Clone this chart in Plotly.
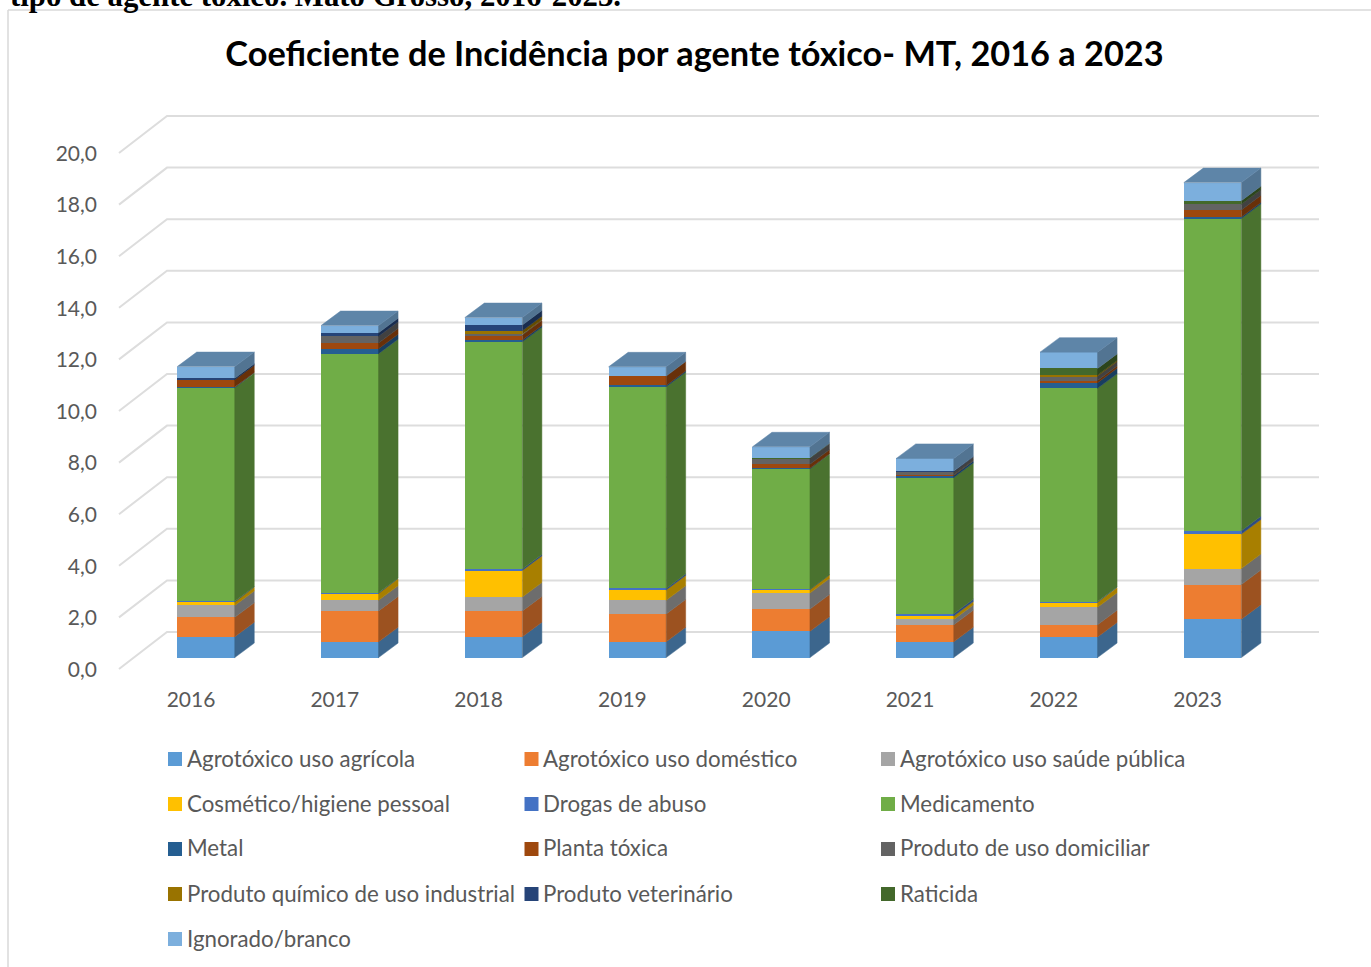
import plotly.graph_objects as go

# ---------- data ----------
years = ["2016", "2017", "2018", "2019", "2020", "2021", "2022", "2023"]
agrotoxico_agricola = [0.81, 0.61, 0.81, 0.61, 1.02, 0.61, 0.80, 1.49]
agrotoxico_domestico = [0.75, 1.20, 1.00, 1.08, 0.86, 0.66, 0.47, 1.34]
agrotoxico_saude = [0.46, 0.41, 0.54, 0.53, 0.62, 0.21, 0.68, 0.62]
cosmetico = [0.14, 0.27, 1.03, 0.40, 0.14, 0.13, 0.20, 1.34]
drogas = [0.02, 0.02, 0.05, 0.06, 0.01, 0.09, 0.02, 0.13]
medicamento = [8.28, 9.27, 8.81, 7.82, 4.67, 5.28, 8.27, 12.10]
metal = [0.03, 0.19, 0.07, 0.05, 0.02, 0.08, 0.21, 0.06]
planta = [0.28, 0.22, 0.19, 0.36, 0.15, 0.02, 0.09, 0.27]
domiciliar = [0.0, 0.27, 0.03, 0.0, 0.24, 0.13, 0.17, 0.22]
industrial = [0.0, 0.0, 0.14, 0.0, 0.0, 0.0, 0.04, 0.0]
veterinario = [0.06, 0.13, 0.22, 0.0, 0.0, 0.02, 0.0, 0.0]
raticida = [0.0, 0.0, 0.0, 0.0, 0.02, 0.0, 0.26, 0.14]
ignorado = [0.45, 0.28, 0.29, 0.36, 0.42, 0.49, 0.63, 0.70]

series_names = ["Agrotóxico uso agrícola", "Agrotóxico uso doméstico", "Agrotóxico uso saúde pública",
                "Cosmético/higiene pessoal", "Drogas de abuso", "Medicamento", "Metal", "Planta tóxica",
                "Produto de uso domiciliar", "Produto químico de uso industrial", "Produto veterinário",
                "Raticida", "Ignorado/branco"]
series_values = [agrotoxico_agricola, agrotoxico_domestico, agrotoxico_saude, cosmetico, drogas, medicamento,
                 metal, planta, domiciliar, industrial, veterinario, raticida, ignorado]
series_colors = ["#5B9BD5", "#ED7D31", "#A5A5A5", "#FFC000", "#4472C4", "#70AD47", "#255E91", "#9E480E",
                 "#636363", "#997300", "#264478", "#43682B", "#7CAFDD"]
axis_ticks = [0, 2, 4, 6, 8, 10, 12, 14, 16, 18, 20]

# ---------- layout constants (pixels) ----------
W, H = 1371, 967
L, R, T, B = 98, 41, 100, 282           # plot area margins
X0, PX_PER_CAT = 206.0, 143.8           # pixel of first category centre, category spacing
Y0, PX_PER_UNIT = 657.6, 25.8           # pixel of value 0 at bar front, pixels per unit
BAR_W = 0.40
DEPTH_X = 19.5 / PX_PER_CAT
DEPTH_Y = 14.5 / PX_PER_UNIT
FONT = "Lato"
TEXT = "#595959"
GRID = "#DDDDDD"


def px_x(p):
    return (p - X0) / PX_PER_CAT


def px_y(p):
    return (Y0 - p) / PX_PER_UNIT


def paper_x(p):
    return (p - L) / (W - L - R)


def paper_y(p):
    return (H - B - p) / (H - T - B)


def shade(hex_color, k):
    r, g, b = (int(hex_color[i:i + 2], 16) for i in (1, 3, 5))
    return f"rgb({r * k:.0f},{g * k:.0f},{b * k:.0f})"


fig = go.Figure()
x_pos = list(range(len(years)))

# Front faces, with the library's stacking
for name, vals, col in zip(series_names, series_values, series_colors):
    fig.add_trace(go.Bar(x=x_pos, y=vals, name=name, width=BAR_W, marker=dict(color=col, line=dict(width=0)),
                         showlegend=False))

# Side faces and top faces, derived from the same values
base = [0.0] * len(years)
for name, vals, col in zip(series_names, series_values, series_colors):
    xs, ys = [], []
    for i, v in enumerate(vals):
        if v <= 0:
            continue
        r = i + BAR_W / 2
        xs += [r, r + DEPTH_X, r + DEPTH_X, r, r, None]
        ys += [base[i], base[i] + DEPTH_Y, base[i] + v + DEPTH_Y, base[i] + v, base[i], None]
    fig.add_trace(go.Scatter(x=xs, y=ys, mode="lines", fill="toself", fillcolor=shade(col, 0.66),
                             line=dict(width=0.5, color=shade(col, 0.66)), hoverinfo="skip", showlegend=False))
    base = [b + v for b, v in zip(base, vals)]

xs, ys = [], []
for i, top in enumerate(base):
    left, right = i - BAR_W / 2, i + BAR_W / 2
    xs += [left, left + DEPTH_X, right + DEPTH_X, right, left, None]
    ys += [top, top + DEPTH_Y, top + DEPTH_Y, top, top, None]
fig.add_trace(go.Scatter(x=xs, y=ys, mode="lines", fill="toself", fillcolor=shade(series_colors[-1], 0.76),
                         line=dict(width=0.5, color=shade(series_colors[-1], 0.76)),
                         hoverinfo="skip", showlegend=False))

# Gridlines on the floor/back wall, one per tick
shapes = []
front_off, back_off = px_y(669), px_y(632)
x_front, x_back, x_end = px_x(119), px_x(167), px_x(1319)
for t in axis_ticks:
    path = (f"M {x_front},{t + front_off} L {x_back},{t + back_off} L {x_end},{t + back_off}")
    shapes.append(dict(type="path", path=path, xref="x", yref="y", layer="below",
                       line=dict(color=GRID, width=2)))

# Chart frame
shapes.append(dict(type="line", xref="paper", yref="paper", x0=paper_x(8), x1=paper_x(8), y0=paper_y(10),
                   y1=paper_y(967), line=dict(color="#D9D9D9", width=1.5)))
shapes.append(dict(type="line", xref="paper", yref="paper", x0=paper_x(8), x1=paper_x(1371), y0=paper_y(10),
                   y1=paper_y(10), line=dict(color="#D9D9D9", width=1.5)))

# Legend drawn as a grid
annotations = []
COL_X = [168, 524.5, 881]
ROW_Y = [759, 804, 849, 894, 939]
for k, (name, col) in enumerate(zip(series_names, series_colors)):
    cx, cy = COL_X[k % 3], ROW_Y[k // 3]
    shapes.append(dict(type="rect", xref="paper", yref="paper", x0=paper_x(cx), x1=paper_x(cx + 14),
                       y0=paper_y(cy - 7), y1=paper_y(cy + 7), fillcolor=col, line=dict(width=0)))
    annotations.append(dict(text=name, xref="paper", yref="paper", x=paper_x(cx + 16.5), y=paper_y(cy - 1),
                            xanchor="left", yanchor="middle", showarrow=False,
                            font=dict(family=FONT, size=22.3, color=TEXT)))

# Cropped caption line above the chart
annotations.append(dict(text="<b>tipo de agente tóxico. Mato Grosso, 2016-2023.</b>", xref="paper", yref="paper",
                        x=paper_x(8), y=paper_y(15), xanchor="left", yanchor="bottom", showarrow=False,
                        font=dict(family="Liberation Serif", size=30.8, color="#000000")))

fig.update_layout(
    width=W, height=H, autosize=False, barmode="stack", bargap=0,
    margin=dict(l=L, r=R, t=T, b=B),
    paper_bgcolor="white", plot_bgcolor="white",
    title=dict(text="<b>Coeficiente de Incidência por agente tóxico- MT, 2016 a 2023</b>",
               xref="container", yref="container", x=694.5 / W, y=1 - 54 / H, xanchor="center", yanchor="middle",
               font=dict(family=FONT, size=34.3, color="#000000")),
    xaxis=dict(range=[px_x(L), px_x(W - R)], tickmode="array", tickvals=[i + px_x(191) for i in x_pos],
               ticktext=years, ticks="", showgrid=False, zeroline=False, showline=False,
               tickfont=dict(family=FONT, size=21, color=TEXT)),
    yaxis=dict(range=[px_y(H - B), px_y(T)], tickmode="array", tickvals=[t + px_y(669.5) for t in axis_ticks],
               ticktext=[f"{t:.1f}".replace(".", ",") for t in axis_ticks], ticks="", showgrid=False,
               zeroline=False, showline=False, tickfont=dict(family=FONT, size=21, color=TEXT)),
    shapes=shapes, annotations=annotations,
)

fig.write_html("out.html", config={"displayModeBar": False}, post_script="document.body.style.margin='0';")
